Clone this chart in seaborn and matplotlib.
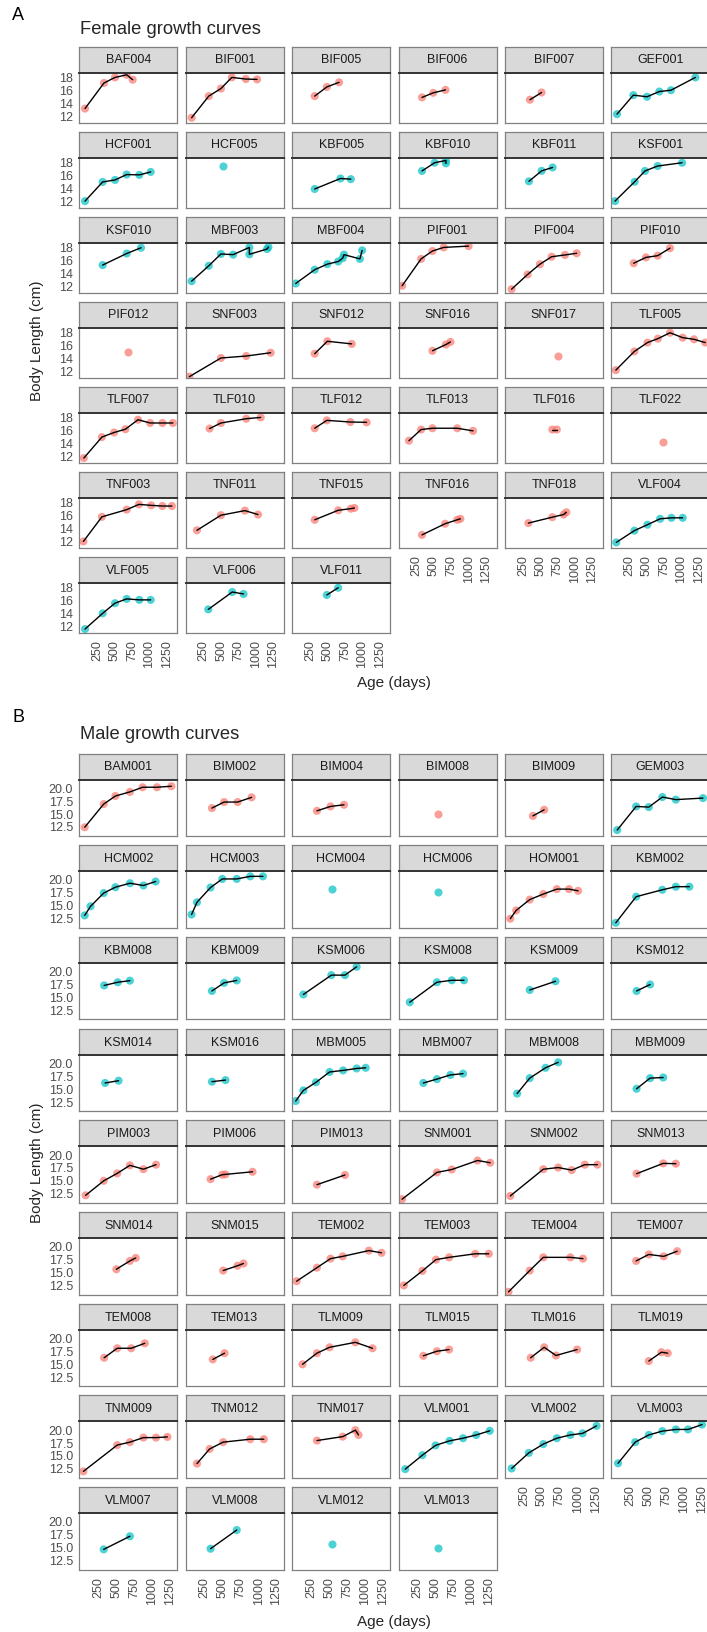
import numpy as np
import pandas as pd
import matplotlib
matplotlib.use("Agg")
import matplotlib.pyplot as plt
import seaborn as sns

# ---- data ----
female_ids = ["BAF004", "BIF001", "BIF005", "BIF006", "BIF007", "GEF001",
              "HCF001", "HCF005", "KBF005", "KBF010", "KBF011", "KSF001",
              "KSF010", "MBF003", "MBF004", "PIF001", "PIF004", "PIF010",
              "PIF012", "SNF003", "SNF012", "SNF016", "SNF017", "TLF005",
              "TLF007", "TLF010", "TLF012", "TLF013", "TLF016", "TLF022",
              "TNF003", "TNF011", "TNF015", "TNF016", "TNF018", "VLF004",
              "VLF005", "VLF006", "VLF011"]

female_age = [
    [72, 345, 504, 672, 758], [75, 322, 497, 653, 855, 1017], [315, 490, 666],
    [328, 490, 666], [350, 518], [72, 307, 504, 681, 849, 1200],
    [72, 326, 504, 672, 854, 1017], [532], [315, 686, 835],
    [328, 510, 672, 672], [336, 518, 676], [43, 326, 475, 657, 1008],
    [326, 672, 878], [75, 322, 497, 672, 906, 906, 1160, 1180],
    [42, 315, 497, 653, 718, 737, 965, 998], [42, 315, 478, 640, 998],
    [86, 316, 494, 662, 854, 1022], [312, 489, 657, 835],
    [686], [42, 497, 861, 1212], [315, 497, 848], [478, 672, 737], [750],
    [55, 322, 510, 660, 835, 1017, 1180, 1342],
    [55, 315, 490, 653, 835, 1010, 1186, 1336], [334, 497, 861, 1069],
    [315, 490, 828, 1062], [140, 315, 478, 835, 1062], [672, 737], [737],
    [49, 315, 672, 848, 1024, 1186, 1322], [152, 497, 842, 1030],
    [315, 653, 835, 887], [328, 660, 835, 880], [328, 672, 835, 874],
    [62, 322, 510, 692, 855, 1017],
    [72, 326, 504, 672, 854, 1017], [315, 660, 822], [490, 653]]

female_length = [
    [13.1, 17.0, 17.85, 18.25, 17.5], [11.7, 15.0, 16.15, 17.85, 17.6, 17.55],
    [15.0, 16.4, 17.1], [14.8, 15.5, 15.95], [14.45, 15.55],
    [12.25, 15.15, 14.9, 15.7, 15.9, 17.85],
    [11.95, 14.87, 15.18, 16.0, 15.95, 16.4], [17.28], [13.8, 15.4, 15.3],
    [16.55, 17.8, 18.15, 17.7], [14.97, 16.56, 17.08],
    [11.95, 14.9, 16.55, 17.3, 17.8],
    [15.16, 16.92, 17.8], [12.7, 15.05, 16.85, 16.75, 17.85, 16.8, 17.6, 17.9],
    [12.35, 14.45, 15.3, 15.7, 16.2, 16.75, 16.1, 17.4],
    [12.0, 16.1, 17.3, 17.85, 18.05], [11.48, 13.72, 15.29, 16.43, 16.7, 16.96],
    [15.44, 16.33, 16.59, 17.74],
    [14.85], [11.1, 13.95, 14.25, 14.75], [14.6, 16.5, 16.1], [15.05, 16.0, 16.4],
    [14.25], [12.1, 14.95, 16.3, 16.9, 17.8, 17.05, 16.8, 16.3],
    [11.65, 14.85, 15.55, 16.05, 17.5, 17.0, 17.0, 17.0], [16.15, 17.0, 17.65, 17.85],
    [16.2, 17.4, 17.15, 17.1], [14.3, 16.0, 16.2, 16.2, 15.8], [16.0, 16.0], [14.05],
    [11.9, 15.65, 16.75, 17.55, 17.4, 17.3, 17.3], [13.6, 15.9, 16.6, 16.0],
    [15.2, 16.65, 16.9, 17.0], [12.9, 14.6, 15.2, 15.35], [14.7, 15.6, 16.0, 16.35],
    [11.75, 13.55, 14.45, 15.35, 15.5, 15.5],
    [11.5, 13.9, 15.45, 16.1, 15.95, 15.95], [14.5, 17.15, 16.85], [16.7, 17.8]]

male_ids = ["BAM001", "BIM002", "BIM004", "BIM008", "BIM009", "GEM003",
            "HCM002", "HCM003", "HCM004", "HCM006", "HOM001", "KBM002",
            "KBM008", "KBM009", "KSM006", "KSM008", "KSM009", "KSM012",
            "KSM014", "KSM016", "MBM005", "MBM007", "MBM008", "MBM009",
            "PIM003", "PIM006", "PIM013", "SNM001", "SNM002", "SNM013",
            "SNM014", "SNM015", "TEM002", "TEM003", "TEM004", "TEM007",
            "TEM008", "TEM013", "TLM009", "TLM015", "TLM016", "TLM019",
            "TNM009", "TNM012", "TNM017", "VLM001", "VLM002", "VLM003",
            "VLM007", "VLM008", "VLM012", "VLM013"]

male_age = [
    [60, 325, 488, 690, 866, 1067, 1268], [350, 520, 708, 903], [331, 520, 708],
    [532], [375, 532], [67, 331, 507, 696, 884, 1262],
    [60, 142, 325, 488, 690, 878, 1048], [67, 142, 331, 495, 696, 884, 1061],
    [539], [532], [60, 142, 331, 520, 708, 878, 1004], [48, 331, 696, 884, 1073],
    [331, 520, 690], [350, 520, 696], [142, 532, 721, 884], [142, 520, 727, 897],
    [331, 690], [337, 526],
    [344, 532], [350, 539], [35, 142, 318, 507, 696, 884, 1010],
    [331, 520, 708, 884], [155, 331, 551, 727], [337, 526, 708],
    [73, 325, 513, 690, 878, 1054], [331, 495, 539, 916], [331, 721],
    [35, 520, 727, 1086, 1262], [60, 520, 727, 916, 1098, 1274], [337, 708, 884],
    [501, 690, 771], [507, 708, 790], [48, 331, 520, 690, 1054, 1231],
    [60, 318, 507, 690, 1054, 1243], [35, 331, 520, 897, 1073], [331, 507, 715, 903],
    [331, 513, 708, 897], [362, 526], [130, 331, 507, 866, 1105], [331, 520, 690],
    [344, 532, 696, 991], [507, 683, 771],
    [42, 513, 690, 878, 1054, 1212], [142, 318, 507, 884, 1073], [331, 690, 866, 910],
    [79, 318, 501, 696, 884, 1067, 1256], [79, 318, 520, 708, 897, 1067, 1262],
    [79, 318, 507, 696, 884, 1054, 1249],
    [325, 690], [331, 696], [539], [532]]

male_length = [
    [12.24, 16.74, 18.3, 19.1, 20.0, 20.0, 20.2], [15.96, 17.13, 17.13, 18.04],
    [15.43, 16.28, 16.6], [14.78], [14.45, 15.63], [11.7, 16.28, 16.15, 18.1, 17.6, 17.9],
    [12.93, 14.7, 17.26, 18.4, 19.17, 18.73, 19.5], [13.1, 15.48, 18.34, 20.0, 20.0, 20.5, 20.5],
    [18.03], [17.4], [12.3, 13.9, 16.0, 17.07, 18.03, 18.03, 17.7], [11.5, 16.56, 17.9, 18.5, 18.5],
    [17.13, 17.75, 18.06], [16.06, 17.63, 18.1], [15.38, 19.13, 19.13, 20.75],
    [13.88, 17.75, 18.13, 18.13], [16.25, 17.94], [16.06, 17.31],
    [16.0, 16.44], [16.25, 16.56], [12.5, 14.56, 16.13, 18.13, 18.44, 18.81, 18.94],
    [16.0, 16.75, 17.56, 17.81], [13.94, 16.94, 18.94, 20.0], [14.88, 16.94, 17.06],
    [12.0, 14.81, 16.25, 17.81, 17.06, 17.94], [15.13, 16.0, 16.06, 16.56], [14.06, 15.94],
    [11.25, 16.44, 17.0, 18.75, 18.31], [11.88, 17.06, 17.38, 16.88, 17.94, 17.94],
    [16.19, 18.19, 18.13],
    [15.44, 17.06, 17.63], [15.19, 16.13, 16.56], [13.13, 15.75, 17.5, 17.94, 19.06, 18.63],
    [12.31, 15.13, 17.31, 17.75, 18.44, 18.44], [11.06, 15.19, 17.75, 17.75, 17.5],
    [17.06, 18.31, 17.94, 18.94],
    [16.06, 17.9, 17.9, 18.86], [15.74, 16.95], [14.79, 16.95, 18.09, 19.05, 17.9],
    [16.44, 17.33, 17.65], [16.06, 18.09, 16.5, 17.65], [15.42, 17.14, 16.95],
    [11.81, 16.91, 17.48, 18.36, 18.36, 18.49], [13.32, 16.16, 17.48, 18.05, 18.05],
    [17.79, 18.55, 19.81, 18.87],
    [12.25, 14.96, 16.85, 17.73, 18.24, 18.87, 19.68],
    [12.38, 15.4, 17.1, 18.24, 18.87, 19.18, 20.63],
    [13.38, 17.48, 18.87, 19.62, 19.94, 19.94, 20.88],
    [14.47, 17.01], [14.6, 18.22], [15.55], [14.72]]

# sites drawn in the second (teal) colour
group2_sites = ["GE", "HC", "KB", "KS", "MB", "VL"]
x_ticks = [250, 500, 750, 1000, 1250]
female_yticks = [12, 14, 16, 18]
male_yticks = [12.5, 15.0, 17.5, 20.0]

palette = {"group 1": "#F8766D", "group 2": "#00BFC4"}


def to_frame(ids, ages, lengths):
    rows = []
    for pid, aa, ll in zip(ids, ages, lengths):
        grp = "group 2" if pid[:2] in group2_sites else "group 1"
        for a, l in zip(aa, ll):
            rows.append((pid, a, l, grp))
    return pd.DataFrame(rows, columns=["id", "age", "length", "group"])


female = to_frame(female_ids, female_age, female_length)
male = to_frame(male_ids, male_age, male_length)

sns.set_theme(style="white")
plt.rcParams["font.family"] = ["Liberation Sans", "DejaVu Sans"]

W, H = 707, 1633
fig = plt.figure(figsize=(W / 100, H / 100), dpi=100)


def box(x, y, w, h):
    return [x / W, 1 - (y + h) / H, w / W, h / H]


COL_X0, COL_PITCH, PANEL_W, STRIP_H = 79.3, 106.4, 98, 26


def draw_block(df, ids, top, pitch, panel_h, xlim, ylim, yticks, ylabels):
    n = len(ids)
    for k, pid in enumerate(ids):
        r, c = divmod(k, 6)
        x0 = COL_X0 + COL_PITCH * c
        st = top + pitch * r
        sax = fig.add_axes(box(x0, st, PANEL_W, STRIP_H))
        sax.set_facecolor("#D9D9D9")
        sax.set_xticks([])
        sax.set_yticks([])
        for sp in sax.spines.values():
            sp.set_color("#808080")
            sp.set_linewidth(0.9)
        sax.text(0.5, 0.5, pid, ha="center", va="center", fontsize=9,
                 color="#1A1A1A", transform=sax.transAxes)

        ax = fig.add_axes(box(x0, st + STRIP_H, PANEL_W, panel_h))
        sub = df[df["id"] == pid]
        sns.scatterplot(data=sub, x="age", y="length", hue="group", palette=palette,
                        s=34, alpha=0.7, linewidth=0, legend=False, ax=ax)
        if len(sub) > 1:
            sns.lineplot(data=sub, x="age", y="length", estimator=None, sort=False,
                         color="black", linewidth=1.0, ax=ax)
        ax.set_xlim(*xlim)
        ax.set_ylim(*ylim)
        ax.set_xlabel("")
        ax.set_ylabel("")
        ax.set_facecolor("white")
        for sp in ax.spines.values():
            sp.set_color("#808080")
            sp.set_linewidth(0.9)
        ax.spines["top"].set_color("#333333")
        ax.spines["top"].set_linewidth(1.4)
        ax.tick_params(length=3, width=0.8, color="#333333", labelsize=9,
                       labelcolor="#4D4D4D", pad=1.5)
        if c == 0:
            ax.set_yticks(yticks)
            ax.set_yticklabels(ylabels)
        else:
            ax.set_yticks([])
        # x axis only under the last panel of each column
        if k + 6 >= n:
            ax.set_xticks(x_ticks)
            ax.set_xticklabels([str(t) for t in x_ticks], rotation=90)
        else:
            ax.set_xticks([])


# ---- panel A: females ----
fig.text(18 / W, 1 - 15 / H, "A", fontsize=13, ha="center", va="center", color="black")
fig.text(80 / W, 1 - 30 / H, "Female growth curves", fontsize=13.2, ha="left", va="center")
draw_block(female, female_ids, top=47.5, pitch=85, panel_h=50.5,
           xlim=(-10, 1400), ylim=(10.9, 18.6),
           yticks=female_yticks, ylabels=[str(v) for v in female_yticks])
fig.text(394 / W, 1 - 683 / H, "Age (days)", fontsize=11, ha="center", va="center")
fig.text(37 / W, 1 - 341 / H, "Body Length (cm)", fontsize=11, ha="center", va="center",
         rotation=90)

# ---- panel B: males ----
fig.text(18 / W, 1 - 718 / H, "B", fontsize=13, ha="center", va="center", color="black")
fig.text(80 / W, 1 - 735 / H, "Male growth curves", fontsize=13.2, ha="left", va="center")
draw_block(male, male_ids, top=754.5, pitch=91.7, panel_h=56.5,
           xlim=(-15, 1350), ylim=(10.55, 21.5),
           yticks=male_yticks, ylabels=[f"{v:.1f}" for v in male_yticks])
fig.text(394 / W, 1 - 1622 / H, "Age (days)", fontsize=11, ha="center", va="center")
fig.text(37 / W, 1 - 1163 / H, "Body Length (cm)", fontsize=11, ha="center", va="center",
         rotation=90)

fig.savefig("out.png", dpi=100, facecolor="white")
